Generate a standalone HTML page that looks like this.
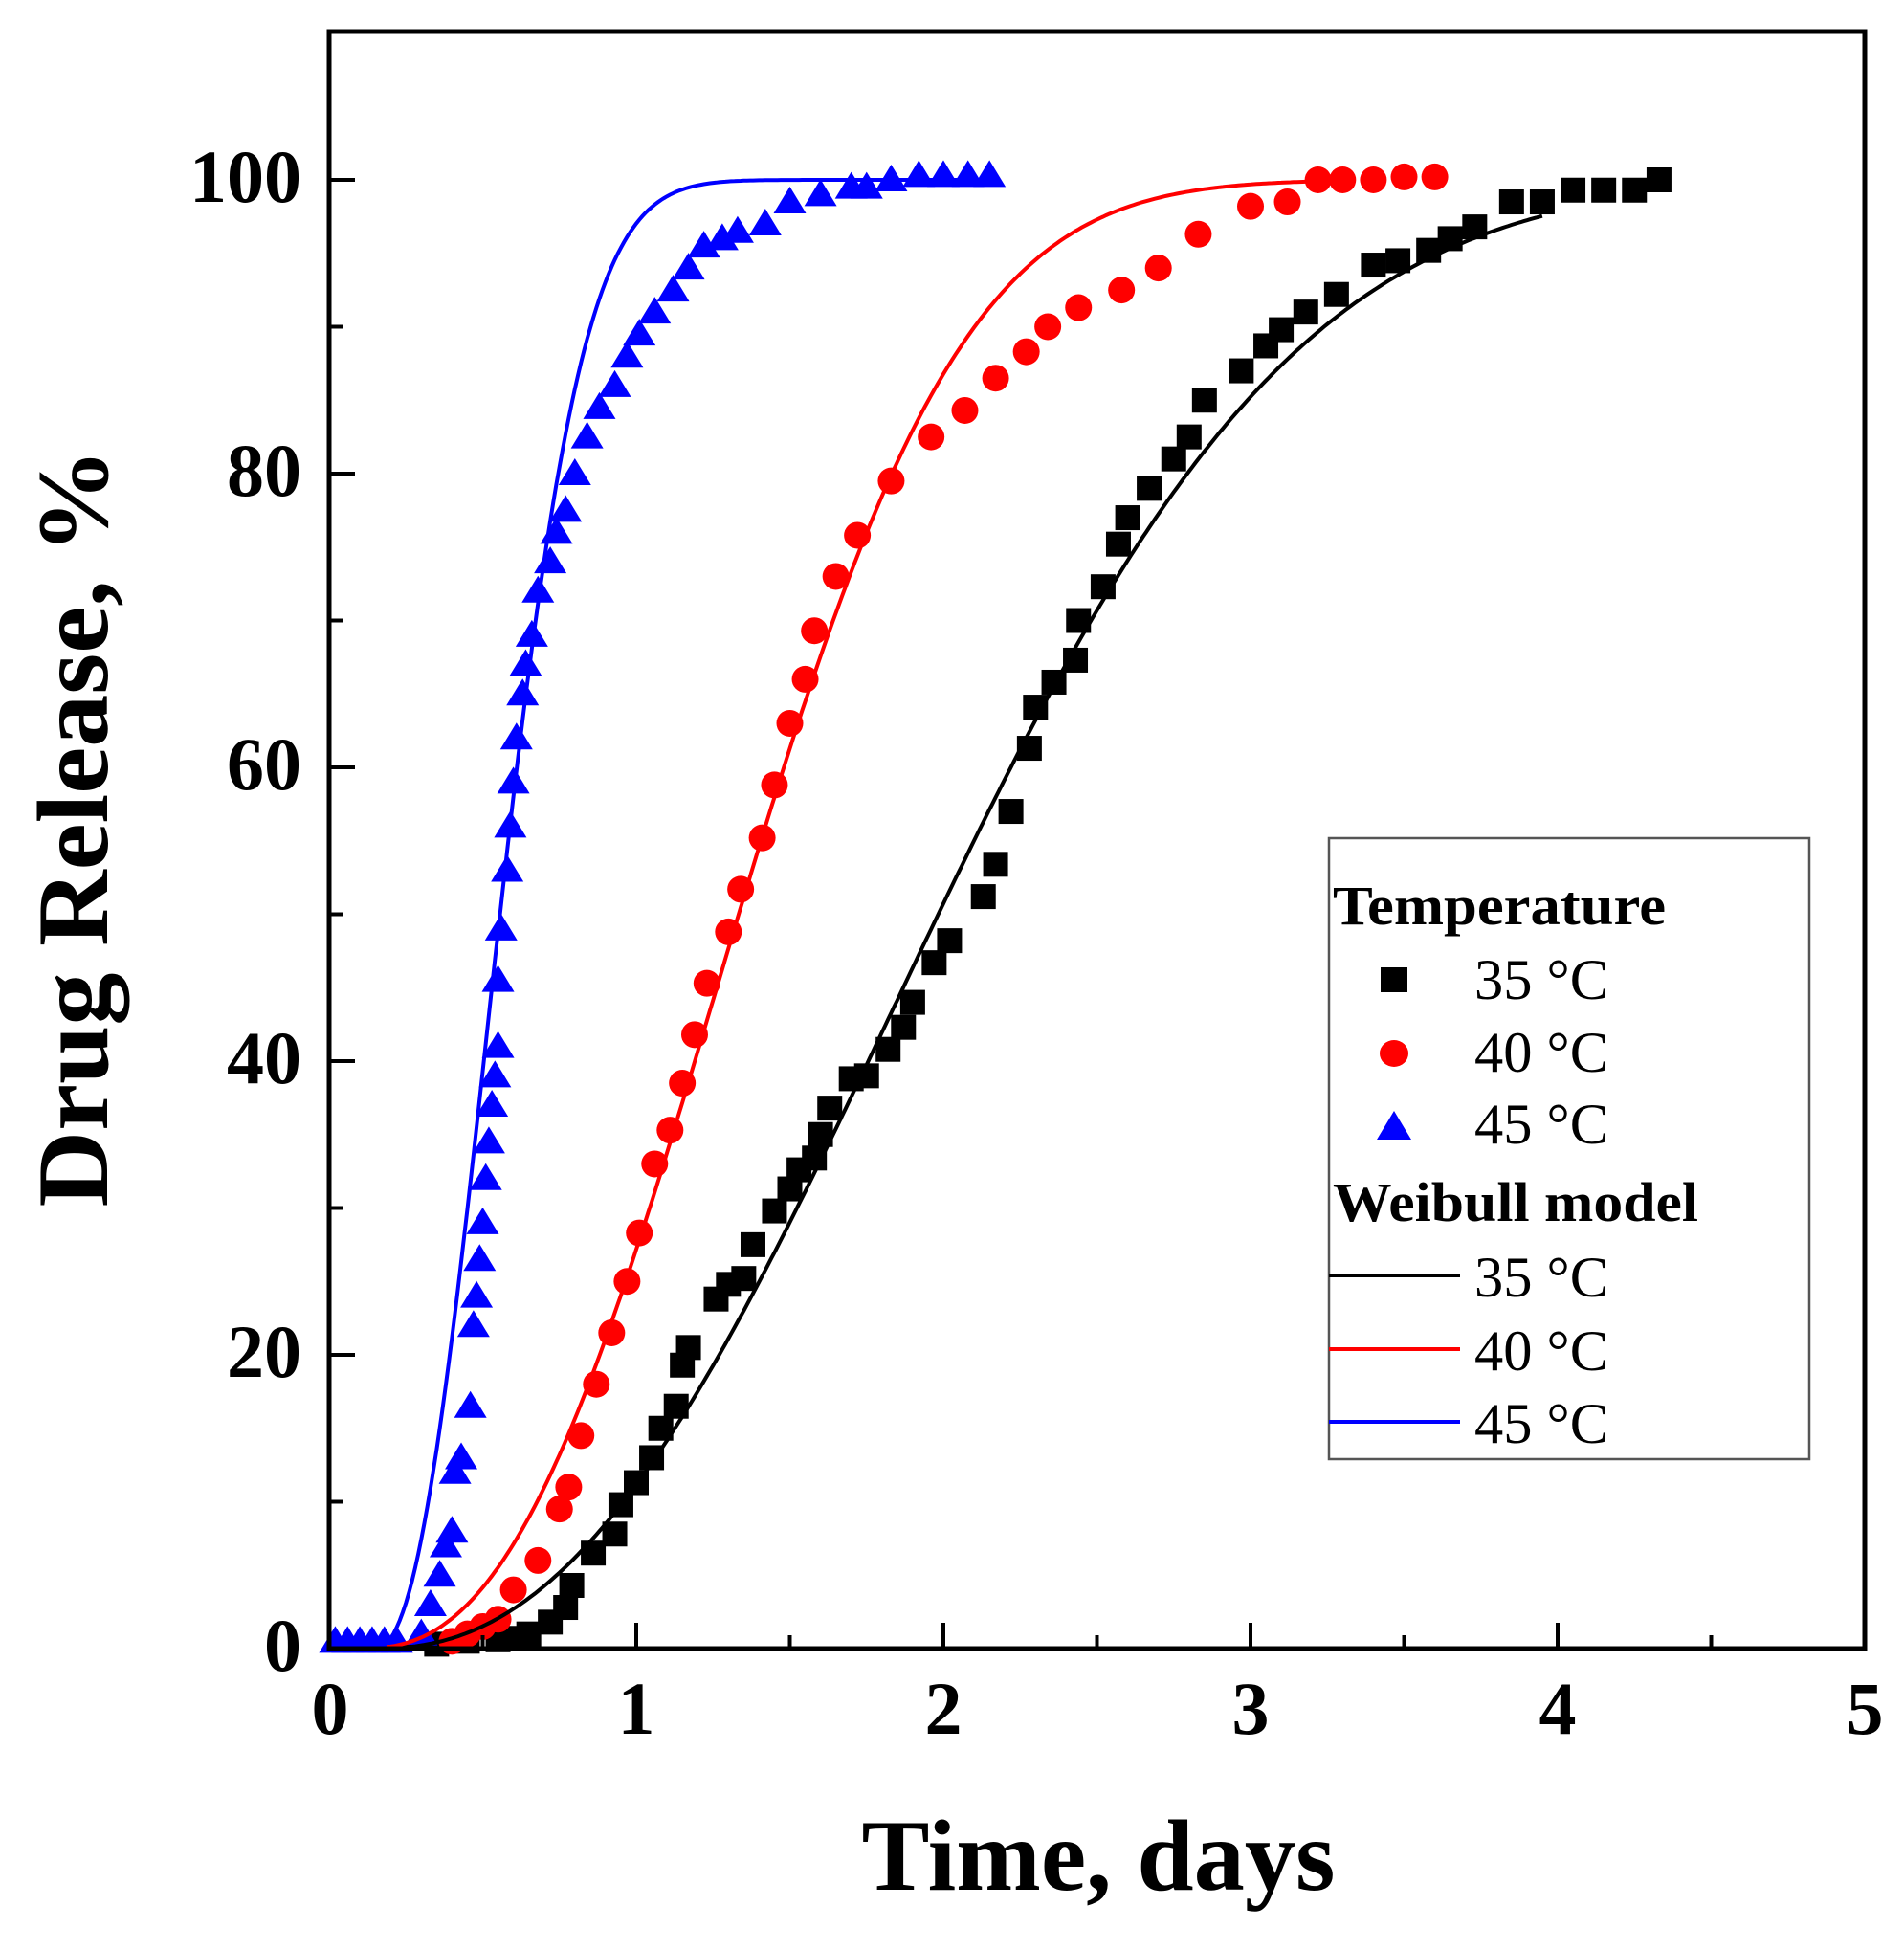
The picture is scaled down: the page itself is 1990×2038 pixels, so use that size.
<!DOCTYPE html>
<html><head><meta charset="utf-8"><style>
html,body{margin:0;padding:0;background:#fff;}
svg{display:block;}
text{font-family:"Liberation Serif",serif;}
</style></head><body>
<svg id="s" width="1990" height="2038" viewBox="0 0 1990 2038" xmlns="http://www.w3.org/2000/svg">
<rect width="1990" height="2038" fill="#fff"/>
<g id="data"></g>
<rect x="344" y="33" width="1605" height="1690" fill="none" stroke="#000" stroke-width="5"/>
<g id="ticks" stroke="#000" stroke-width="4"></g>
<g font-weight="bold" font-size="78" text-anchor="end" fill="#000">
<text x="315" y="1746">0</text>
<text x="315" y="1439">20</text>
<text x="315" y="1132">40</text>
<text x="315" y="825">60</text>
<text x="315" y="518">80</text>
<text x="315" y="211">100</text>
</g>
<g font-weight="bold" font-size="78" text-anchor="middle" fill="#000">
<text x="345" y="1812">0</text>
<text x="665" y="1812">1</text>
<text x="986" y="1812">2</text>
<text x="1307" y="1812">3</text>
<text x="1628" y="1812">4</text>
<text x="1949" y="1812">5</text>
</g>
<text x="1148" y="1975" font-weight="bold" font-size="106" text-anchor="middle" textLength="495" lengthAdjust="spacingAndGlyphs">Time, days</text>
<text transform="translate(112,865) rotate(-90)" font-weight="bold" font-size="106" text-anchor="middle" textLength="793" lengthAdjust="spacingAndGlyphs">Drug Release,  %</text>
<rect x="1389" y="876" width="502" height="649" fill="#fff" stroke="#555" stroke-width="2.5"/>
<text x="1393" y="966" font-weight="bold" font-size="58" textLength="348" lengthAdjust="spacingAndGlyphs">Temperature</text>
<rect x="1443" y="1011" width="28" height="26" fill="#000"/>
<ellipse cx="1457" cy="1101" rx="15" ry="14" fill="#f00"/>
<polygon points="1439,1191 1475,1191 1457,1161" fill="#00f"/>
<text x="1393" y="1276" font-weight="bold" font-size="58" textLength="382" lengthAdjust="spacingAndGlyphs">Weibull model</text>
<line x1="1389" y1="1333" x2="1526" y2="1333" stroke="#000" stroke-width="4"/>
<line x1="1389" y1="1410" x2="1526" y2="1410" stroke="#f00" stroke-width="4"/>
<line x1="1389" y1="1486" x2="1526" y2="1486" stroke="#00f" stroke-width="4"/>
<g font-size="60" fill="#000">
<text x="1541" y="1044" textLength="140" lengthAdjust="spacingAndGlyphs">35 °C</text>
<text x="1541" y="1120" textLength="140" lengthAdjust="spacingAndGlyphs">40 °C</text>
<text x="1541" y="1195" textLength="140" lengthAdjust="spacingAndGlyphs">45 °C</text>
<text x="1541" y="1355" textLength="140" lengthAdjust="spacingAndGlyphs">35 °C</text>
<text x="1541" y="1432" textLength="140" lengthAdjust="spacingAndGlyphs">40 °C</text>
<text x="1541" y="1508" textLength="140" lengthAdjust="spacingAndGlyphs">45 °C</text>
</g>
</svg>
<script>
(function(){
var NS="http://www.w3.org/2000/svg";
function X(t){return 344+321*t;} function Y(v){return 1723-15.35*v;}
var g=document.getElementById("data"), tk=document.getElementById("ticks");
function el(n,a,p){var e=document.createElementNS(NS,n);for(var k in a)e.setAttribute(k,a[k]);(p||g).appendChild(e);return e;}
for(var i=0;i<=10;i++){var x=344+160.5*i; if(i>0&&i<10) el("line",{x1:x,y1:1723,x2:x,y2:1723-(i%2?14:27)},tk);}
for(var j=1;j<=11;j++){var y=1723-153.5*j; if(y>40) el("line",{x1:344,y1:y,x2:344+(j%2?14:27),y2:y},tk);}
var blue=[[0.02,0.5],[0.06,0.5],[0.1,0.5],[0.14,0.5],[0.18,0.5],[0.22,0.5],[0.3,1],[0.33,3],[0.36,5],[0.38,7],[0.4,8],[0.41,12],[0.43,13],[0.46,16.5],[0.47,22],[0.48,24],[0.49,26.5],[0.5,29],[0.51,32],[0.52,34.5],[0.53,37],[0.54,39],[0.55,41],[0.55,45.5],[0.56,49],[0.58,53],[0.59,56],[0.6,59],[0.61,62],[0.63,65],[0.64,67],[0.66,69],[0.68,72],[0.72,74],[0.74,76],[0.77,77.5],[0.8,80],[0.84,82.5],[0.88,84.5],[0.93,86],[0.97,88],[1.01,89.5],[1.06,91],[1.12,92.5],[1.17,94],[1.22,95.5],[1.28,96],[1.33,96.5],[1.42,97],[1.5,98.5],[1.6,99],[1.7,99.5],[1.75,99.5],[1.83,100],[1.92,100.3],[2.0,100.3],[2.08,100.3],[2.15,100.3]];
var red=[[0.4,0.5],[0.45,1],[0.5,1.5],[0.55,2],[0.6,4],[0.68,6],[0.75,9.5],[0.78,11],[0.82,14.5],[0.87,18],[0.92,21.5],[0.97,25],[1.01,28.3],[1.06,33],[1.11,35.3],[1.15,38.5],[1.19,41.8],[1.23,45.3],[1.3,48.8],[1.34,51.7],[1.41,55.2],[1.45,58.8],[1.5,63],[1.55,66],[1.58,69.3],[1.65,73],[1.72,75.8],[1.83,79.5],[1.96,82.5],[2.07,84.3],[2.17,86.5],[2.27,88.3],[2.34,90],[2.44,91.3],[2.58,92.5],[2.7,94],[2.83,96.3],[3.0,98.2],[3.12,98.5],[3.22,100],[3.3,100],[3.4,100],[3.5,100.2],[3.6,100.2]];
var blk=[[0.35,0.3],[0.45,0.5],[0.55,0.6],[0.6,0.7],[0.65,1],[0.72,1.8],[0.77,2.8],[0.79,4.3],[0.86,6.5],[0.93,7.8],[0.95,9.8],[1.0,11.3],[1.05,13],[1.08,15],[1.13,16.5],[1.15,19.3],[1.17,20.5],[1.26,23.8],[1.3,24.8],[1.35,25.2],[1.38,27.5],[1.45,29.8],[1.5,31.3],[1.53,32.6],[1.58,33.4],[1.6,35],[1.63,36.8],[1.7,38.8],[1.75,39],[1.82,40.8],[1.87,42.3],[1.9,44],[1.97,46.7],[2.02,48.2],[2.13,51.2],[2.17,53.4],[2.22,57],[2.28,61.3],[2.3,64.1],[2.36,65.8],[2.43,67.3],[2.44,70],[2.52,72.3],[2.57,75.2],[2.6,77],[2.67,79],[2.75,81],[2.8,82.5],[2.85,85],[2.97,87],[3.05,88.7],[3.1,89.8],[3.18,91],[3.28,92.2],[3.4,94.2],[3.48,94.5],[3.58,95.2],[3.65,96],[3.73,96.8],[3.85,98.5],[3.95,98.5],[4.05,99.3],[4.15,99.3],[4.25,99.3],[4.33,100]];
blk.forEach(function(p){el("rect",{x:X(p[0])-13,y:Y(p[1])-13,width:26,height:26,fill:"#000"});});
red.forEach(function(p){el("circle",{cx:X(p[0]),cy:Y(p[1]),r:14,fill:"#f00"});});
blue.forEach(function(p){var x=X(p[0]),y=Y(p[1]);el("polygon",{points:(x-17)+","+(y+12)+" "+(x+17)+","+(y+12)+" "+x+","+(y-16),fill:"#00f"});});
function curve(t0,a,b,c,tend){var d="";for(var t=0;t<=tend+0.0001;t+=0.01){var v=t<=t0?0:100*(1-Math.exp(-Math.pow((t-t0)/a,b)));d+=(d?"L":"M")+X(t).toFixed(1)+","+Math.min(1721,Y(v)).toFixed(1);}
el("path",{d:d,fill:"none",stroke:c,"stroke-width":4});}
curve(0.15,2.15,2.3,"#000",3.95);
curve(0.1,1.43,2.48,"#f00",3.25);
curve(0.15,0.48,2.2,"#00f",2.18);
})();
</script>
</body></html>
